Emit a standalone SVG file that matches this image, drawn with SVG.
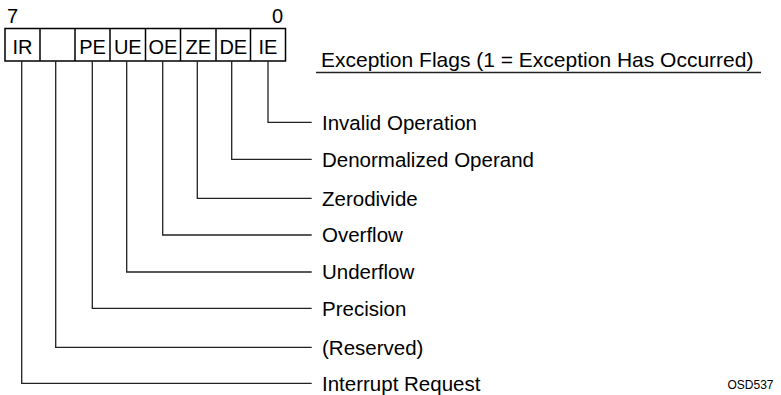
<svg xmlns="http://www.w3.org/2000/svg" width="781" height="395" viewBox="0 0 781 395">
<style>
text{font-family:"Liberation Sans",Arial,sans-serif;fill:#000}
.lbl{font-size:20.5px}
.ttl{font-size:21px}
.cell{font-size:20px;text-anchor:middle}
.bit{font-size:20px}
.box{fill:#fff;stroke:#000;stroke-width:1.5}
.conn{fill:none;stroke:#222;stroke-width:1.3}
.ul{stroke:#222;stroke-width:1.3}
</style>
<rect width="781" height="395" fill="#fff"/>
<g id="register">
<rect class="box" x="5" y="28.5" width="280.5" height="32.5"/>
<line class="box" x1="40" y1="28.5" x2="40" y2="61"/>
<line class="box" x1="75" y1="28.5" x2="75" y2="61"/>
<line class="box" x1="110" y1="28.5" x2="110" y2="61"/>
<line class="box" x1="145.5" y1="28.5" x2="145.5" y2="61"/>
<line class="box" x1="180.5" y1="28.5" x2="180.5" y2="61"/>
<line class="box" x1="216" y1="28.5" x2="216" y2="61"/>
<line class="box" x1="250.5" y1="28.5" x2="250.5" y2="61"/>
<text class="bit" x="7" y="23">7</text>
<text class="bit" x="272" y="23">0</text>
<text class="cell" x="22.5" y="53.5">IR</text>
<text class="cell" x="92.5" y="53.5">PE</text>
<text class="cell" x="127.8" y="53.5">UE</text>
<text class="cell" x="163" y="53.5">OE</text>
<text class="cell" x="198.3" y="53.5">ZE</text>
<text class="cell" x="233.3" y="53.5">DE</text>
<text class="cell" x="268" y="53.5">IE</text>
</g>
<g id="title">
<text class="ttl" x="321" y="67">Exception Flags (1 = Exception Has Occurred)</text>
<line class="ul" x1="316" y1="72.5" x2="761" y2="72.5"/>
</g>
<g id="connectors">
<polyline class="conn" points="268,61 268,122.3 311.7,122.3"/>
<polyline class="conn" points="231.7,61 231.7,159.3 311.7,159.3"/>
<polyline class="conn" points="197.3,61 197.3,198.3 311.7,198.3"/>
<polyline class="conn" points="162.7,61 162.7,235 311.7,235"/>
<polyline class="conn" points="126.7,61 126.7,272 311.7,272"/>
<polyline class="conn" points="92.3,61 92.3,308.3 311.7,308.3"/>
<polyline class="conn" points="55.7,61 55.7,347.3 311.7,347.3"/>
<polyline class="conn" points="21.7,61 21.7,383.3 311.7,383.3"/>
</g>
<g id="labels">
<text class="lbl" x="322" y="129.5">Invalid Operation</text>
<text class="lbl" x="322" y="166.5">Denormalized Operand</text>
<text class="lbl" x="322" y="205.5">Zerodivide</text>
<text class="lbl" x="322" y="242">Overflow</text>
<text class="lbl" x="322" y="279">Underflow</text>
<text class="lbl" x="322" y="315.5">Precision</text>
<text class="lbl" x="322" y="354.5">(Reserved)</text>
<text class="lbl" x="322" y="390.5">Interrupt Request</text>
</g>
<g id="figid">
<text x="727.5" y="388.5" style="font-size:12px">OSD537</text>
</g>
</svg>
